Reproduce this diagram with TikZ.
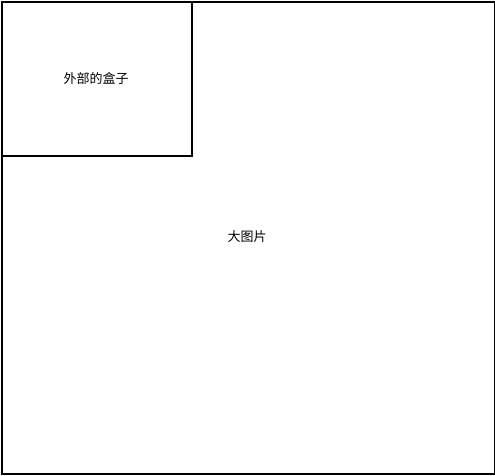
\documentclass[tikz,border=0pt]{standalone}
\usepackage{fontspec}
\newfontfamily\cjk{Noto Sans CJK SC}
\usetikzlibrary{positioning}
\tikzset{
  pagebox/.style = {rectangle, draw=black, line width=1.8pt, anchor=north west,
                    inner sep=0pt},
  boxlbl/.style  = {font=\cjk\fontsize{13}{15}\selectfont, text=black},
}

\begin{document}
\begin{tikzpicture}[x=1pt, y=-1pt]
  \useasboundingbox (0,0) rectangle (495,475);
  \node[pagebox, minimum width=493pt, minimum height=472pt] (bigpic) at (1,1) {};
  \node[pagebox, minimum width=190pt, minimum height=154pt] (outerbox) at (1,1) {};
  \node[boxlbl] (outerlbl) at (96,79) {外部的盒子};
  \node[boxlbl] (biglbl) at (247,237) {大图片};
\end{tikzpicture}
\end{document}
